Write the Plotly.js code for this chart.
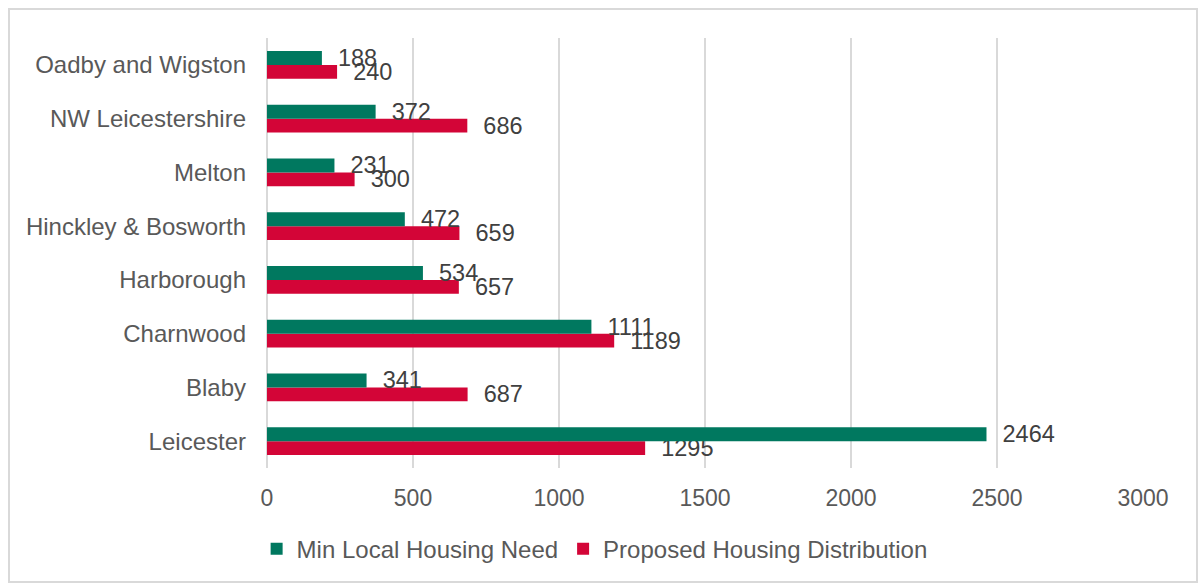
<!DOCTYPE html>
<html>
<head>
<meta charset="utf-8">
<script src="https://cdn.plot.ly/plotly-3.0.1.min.js"></script>
<style>
  html, body { margin: 0; padding: 0; background: #fff; }
  #wrap { position: relative; width: 1198px; height: 583px; }
  #chart { position: absolute; left: 0; top: 0; width: 1198px; height: 583px; }
  #frame { position: absolute; left: 8px; top: 8px; width: 1190px; height: 575px;
           border: 2px solid #D9D9D9; box-sizing: border-box; pointer-events: none; }
</style>
</head>
<body>
<div id="wrap">
  <div id="chart"></div>
  <div id="frame"></div>
</div>
<script>
// Categories listed bottom to top (Plotly category axis draws first at bottom)
const categories = ["Leicester", "Blaby", "Charnwood", "Harborough",
                    "Hinckley & Bosworth", "Melton", "NW Leicestershire", "Oadby and Wigston"];
const minLocalHousingNeed = [2464, 341, 1111, 534, 472, 231, 372, 188];
const proposedHousingDistribution = [1295, 687, 1189, 657, 659, 300, 686, 240];
const seriesNames = ["Min Local Housing Need", "Proposed Housing Distribution"];
const xTicks = [0, 500, 1000, 1500, 2000, 2500, 3000];

const FONT = "Liberation Sans, Arial, sans-serif";
const GREEN = "#00785F";
const RED = "#D30537";

const common = {
  type: "bar",
  orientation: "h",
  y: categories,
  textposition: "outside",
  texttemplate: "\u00a0\u00a0%{x}",
  textfont: { family: FONT, size: 23.5, color: "#404040" },
  constraintext: "none",
  cliponaxis: false,
  hoverinfo: "skip"
};

const traces = [
  Object.assign({}, common, {
    name: seriesNames[1],
    x: proposedHousingDistribution,
    marker: { color: RED },
    legendrank: 2
  }),
  Object.assign({}, common, {
    name: seriesNames[0],
    x: minLocalHousingNeed,
    marker: { color: GREEN },
    legendrank: 1
  })
];

const layout = {
  width: 1198,
  height: 583,
  margin: { l: 267, r: 55, t: 38, b: 115 },
  paper_bgcolor: "#ffffff",
  plot_bgcolor: "#ffffff",
  barmode: "group",
  bargap: 0.48,
  bargroupgap: 0,
  font: { family: FONT, color: "#595959" },
  xaxis: {
    range: [0, 3000],
    tickvals: xTicks,
    ticktext: xTicks.map(String),
    showgrid: true,
    gridcolor: "#D9D9D9",
    gridwidth: 2,
    zeroline: true,
    zerolinecolor: "#D9D9D9",
    zerolinewidth: 2,
    showline: false,
    ticks: "",
    ticklabelstandoff: 14,
    tickfont: { family: FONT, size: 23, color: "#595959" },
    fixedrange: true
  },
  yaxis: {
    type: "category",
    categoryorder: "array",
    categoryarray: categories,
    showgrid: false,
    zeroline: false,
    showline: false,
    ticks: "",
    ticklabelstandoff: 20,
    tickfont: { family: FONT, size: 24, color: "#595959" },
    fixedrange: true
  },
  showlegend: true,
  legend: {
    orientation: "h",
    xref: "paper",
    yref: "container",
    x: 0.374,
    xanchor: "center",
    y: 0.058,
    yanchor: "middle",
    font: { family: FONT, size: 24, color: "#595959" },
    itemwidth: 30,
    traceorder: "normal"
  }
};

Plotly.newPlot("chart", traces, layout, { staticPlot: true, displayModeBar: false });
</script>
</body>
</html>
